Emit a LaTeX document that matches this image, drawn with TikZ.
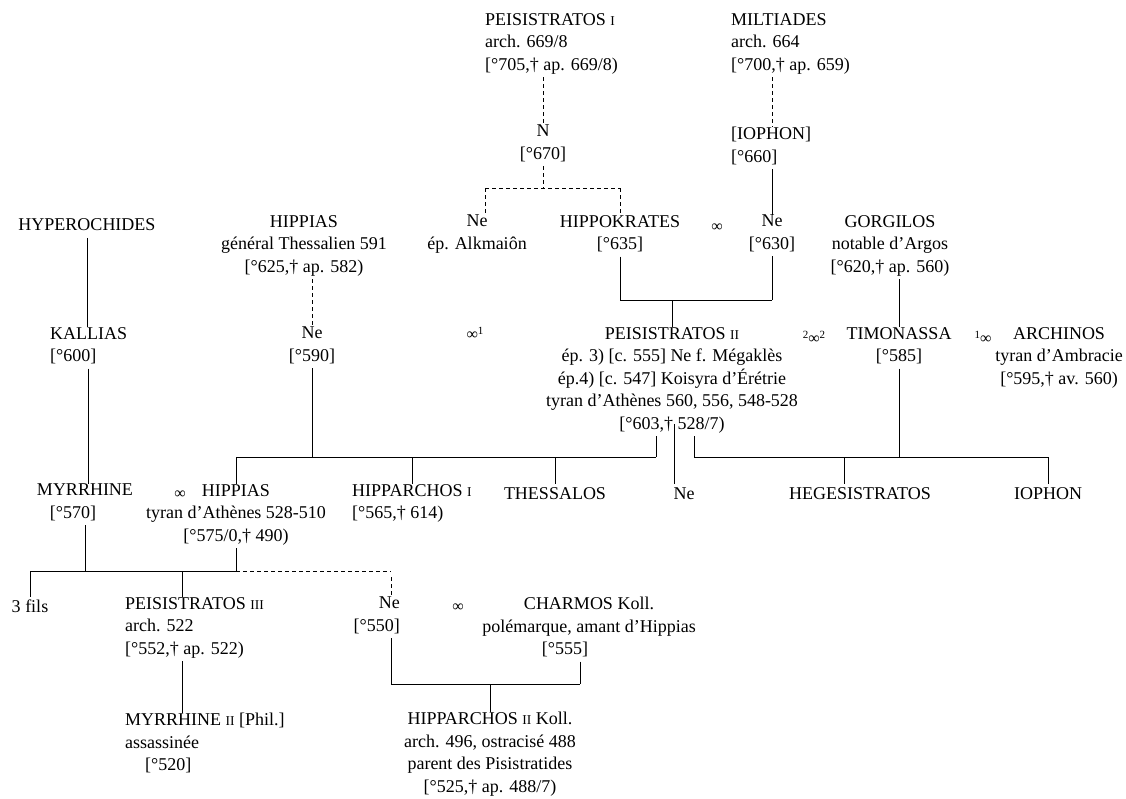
\documentclass[tikz,border=0pt]{standalone}
\usepackage{fontspec}
\setmainfont{Liberation Serif}
\newcommand{\gen}{\fontsize{18}{22.5}\selectfont}
\newcommand{\rn}[1]{{\fontsize{13.5}{13.5}\selectfont #1}}
\newcommand{\wed}{{\fontsize{16}{16}\selectfont ∞}}
\newcommand{\ix}[1]{\raisebox{5pt}{\fontsize{11}{11}\selectfont #1}}
\tikzset{
  person/.style={inner sep=0pt,align=center,anchor=north,font=\gen,execute at begin node=\strut},
  personl/.style={person,align=left,anchor=north west},
  marriage/.style={inner sep=0pt,font=\gen},
  tie/.style={line width=0.7pt},
  guess/.style={tie,dash pattern=on 4pt off 3pt}
}
\begin{document}
\begin{tikzpicture}[x=1pt,y=-1pt]
\useasboundingbox (0,0) rectangle (1126,798);
% generation 1
\node[personl] (pis1) at (485,13) {PEISISTRATOS \rn{I}\\arch. 669/8\\{}[°705,† ap. 669/8)};
\node[personl] (milt) at (731,13) {MILTIADES\\arch. 664\\{}[°700,† ap. 659)};
\node[person] (nn) at (543,125) {N\\{}[°670]};
\node[personl] (ioph1) at (731,127) {[IOPHON]\\{}[°660]};
% generation 2
\node[person] (hyper) at (87,215) {HYPEROCHIDES};
\node[person] (hipthes) at (304,215) {HIPPIAS\\général Thessalien 591\\{}[°625,† ap. 582)};
\node[person] (nealk) at (477,215) {Ne\\ép. Alkmaiôn};
\node[person] (hippok) at (620,215) {HIPPOKRATES\\{}[°635]};
\node[marriage] (m1) at (717,228) {\wed};
\node[person] (ne630) at (772,215) {Ne\\{}[°630]};
\node[person] (gorg) at (890,215) {GORGILOS\\notable d’Argos\\{}[°620,† ap. 560)};
% generation 3
\node[personl] (kallias) at (50,327) {KALLIAS\\{}[°600]};
\node[person] (ne590) at (312,327) {Ne\\{}[°590]};
\node[marriage] (m2) at (475,333) {\wed\ix{1}};
\node[person] (pis2) at (672,327) {PEISISTRATOS \rn{II}\\ép. 3) [c. 555] Ne f. Mégaklès\\ép.4) [c. 547] Koisyra d’Érétrie\\tyran d’Athènes 560, 556, 548-528\\{}[°603,† 528/7)};
\node[marriage] (m3) at (814,337) {\ix{2}\wed\ix{2}};
\node[person] (timo) at (899,327) {TIMONASSA\\{}[°585]};
\node[marriage] (m4) at (983,337) {\ix{1}\wed};
\node[person] (archinos) at (1059,327) {ARCHINOS\\tyran d’Ambracie\\{}[°595,† av. 560)};
% generation 4
\node[person] (myrrhine) at (85,484) {MYRRHINE\\{}[°570]\hspace*{24pt}};
\node[marriage] (m5) at (180,495) {\wed};
\node[person] (hippias) at (236,484) {HIPPIAS\\tyran d’Athènes 528-510\\{}[°575/0,† 490)};
\node[personl] (hipparch1) at (352,484) {HIPPARCHOS \rn{I}\\{}[°565,† 614)};
\node[person] (thessalos) at (555,484) {THESSALOS};
\node[person] (ne603) at (684,484) {Ne};
\node[person] (heges) at (860,484) {HEGESISTRATOS};
\node[person] (ioph2) at (1048,484) {IOPHON};
% generation 5
\node[person] (fils) at (30,597) {3 fils};
\node[personl] (pis3) at (125,597) {PEISISTRATOS \rn{III}\\arch. 522\\{}[°552,† ap. 522)};
\node[person,align=right,anchor=north east] (ne550) at (400,597) {Ne\\{}[°550]};
\node[marriage] (m6) at (458,608) {\wed};
\node[person] (charmos) at (589,597) {CHARMOS Koll.\\polémarque, amant d’Hippias\\{}[°555]\hspace*{48pt}};
% generation 6
\node[personl] (myrrhine2) at (125,713) {MYRRHINE \rn{II} [Phil.]\\assassinée\\\hspace*{20pt}[°520]};
\node[person] (hipparch2) at (490,712) {HIPPARCHOS \rn{II} Koll.\\arch. 496, ostracisé 488\\parent des Pisistratides\\{}[°525,† ap. 488/7)};

% bars
\coordinate (b2l) at (485,188);
\coordinate (b2r) at (hippok.north |- b2l);
\coordinate (b3l) at (hippok.south |- 0,300);
\coordinate (b3r) at (ne630.south |- b3l);
\coordinate (b4l) at (hippias.north |- 0,457);
\coordinate (b4a) at (656,457);
\coordinate (b4m) at (674,457);
\coordinate (b4b) at (694,457);
\coordinate (b4h) at (844,457);
\coordinate (b4r) at (ioph2.north |- b4b);
\coordinate (b5a) at (fils.north |- 0,571);
\coordinate (b5b) at (hippias.south |- b5a);
\coordinate (b5p) at (182,571);
\coordinate (b5c) at (391,571);
\coordinate (b6a) at (391,684);
\coordinate (b6b) at (580,684);

% Peisistratos I, Miltiades
\draw[guess] (nn.north |- pis1.south) -- (nn.north);
\draw[guess] (ne630.north |- milt.south) -- (ne630.north |- ioph1.north);
\draw[guess] (nn.south) -- (nn.south |- b2l);
\draw[guess] (b2l) -- (b2r);
\draw[guess] (b2l) -- (b2l |- nealk.north);
\draw[guess] (b2r) -- (hippok.north);
\draw[tie] (ne630.north |- ioph1.south) -- (ne630.north);
% Hippokrates
\draw[tie] (hippok.south) -- (b3l);
\draw[tie] (ne630.south) -- (b3r);
\draw[tie] (b3l) -- (b3r);
\draw[tie] (pis2.north |- b3l) -- (pis2.north);
% Hyperochides
\draw[tie] (hyper) -- (hyper |- kallias.north);
\draw[tie] (kallias.south) -- (kallias.south |- myrrhine.north);
% Hippias le Thessalien
\draw[guess] (hipthes.south -| ne590.north) -- (ne590.north);
\draw[tie] (ne590.south) -- (ne590.south |- b4l);
\draw[tie] (b4l) -- (b4a);
\draw[tie] (b4a |- pis2.south) -- (b4a);
\draw[tie] (b4l) -- (hippias.north);
\draw[tie] (hipparch1.north |- b4l) -- (hipparch1.north);
\draw[tie] (thessalos.north |- b4l) -- (thessalos.north);
\draw[tie] ([yshift=12pt]b4m |- pis2.south) -- (b4m |- ne603.north);
% Gorgilos, Timonassa
\draw[tie] (timo.north |- gorg.south) -- (timo.north);
\draw[tie] (b4b |- pis2.south) -- (b4b);
\draw[tie] (b4b) -- (b4r);
\draw[tie] (timo.south) -- (timo.south |- b4b);
\draw[tie] (b4h) -- (b4h |- heges.north);
\draw[tie] (b4r) -- (ioph2.north);
% Myrrhine, Hippias
\draw[tie] (myrrhine.south) -- (myrrhine.south |- b5a);
\draw[tie] (hippias.south) -- (b5b);
\draw[tie] (b5a) -- (b5b);
\draw[guess] (b5b) -- (b5c);
\draw[tie] (b5a) -- (fils.north);
\draw[tie] (b5p) -- (b5p |- pis3.north);
\draw[tie] (b5p |- pis3.south) -- (b5p |- myrrhine2.north);
\draw[guess] ([yshift=-6pt]b5c) -- (b5c |- ne550.north);
% Charmos
\draw[tie] (b6a |- ne550.south) -- (b6a);
\draw[tie] (b6b |- charmos.south) -- (b6b);
\draw[tie] (b6a) -- (b6b);
\draw[tie] (hipparch2.north |- b6a) -- (hipparch2.north);
\end{tikzpicture}
\end{document}
